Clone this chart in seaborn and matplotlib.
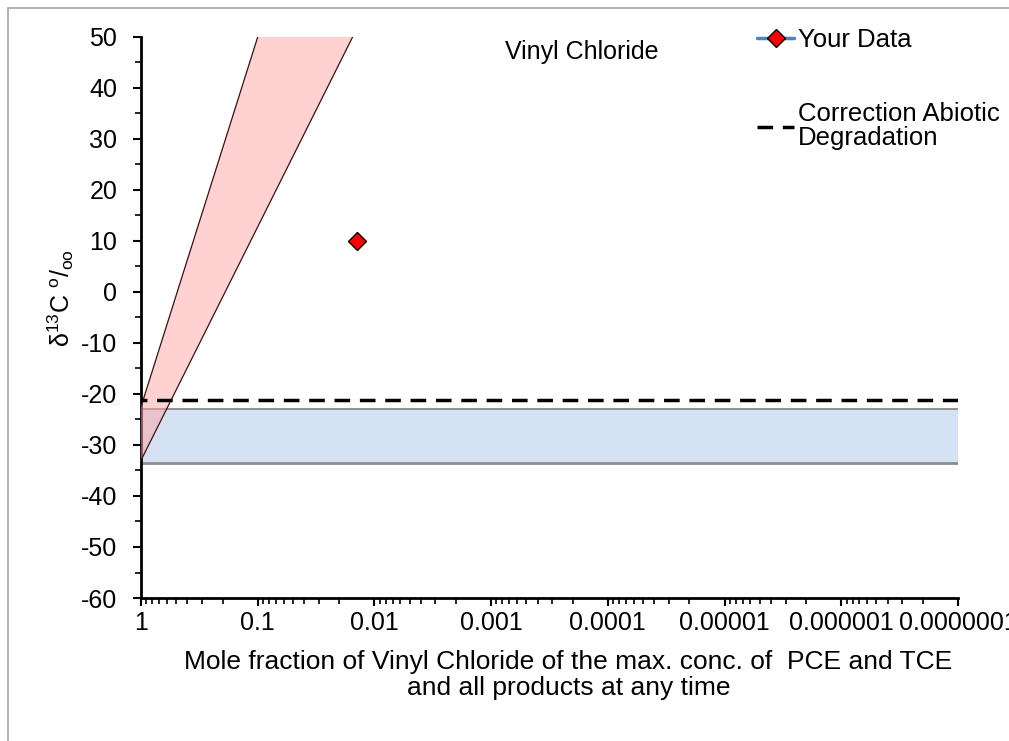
import matplotlib
matplotlib.use("Agg")
import matplotlib.pyplot as plt
import matplotlib.ticker as mticker
from matplotlib.lines import Line2D
import numpy as np
import pandas as pd
import seaborn as sns

# data
decades = [1, 0.1, 0.01, 0.001, 0.0001, 0.00001, 0.000001, 0.0000001]
decade_labels = ["1", "0.1", "0.01", "0.001", "0.0001", "0.00001", "0.000001", "0.0000001"]

# biodegradation envelope (red band): two edge lines
env_lo_f = [1, 0.015]
env_lo_d = [-33, 50.5]
env_hi_f = [1, 0.1]
env_hi_d = [-22.5, 50]

# range of source signature (blue band)
source_f = [1, 0.0000001]
source_top = [-23, -23]
source_bot = [-33.5, -33.5]

# correction for abiotic degradation
corr_f = [1, 0.0000001]
corr_d = [-21.2, -21.2]

# measured data
data_f = [0.014]
data_d = [10]

sns.set_style("white")
plt.rcParams["font.family"] = ["Liberation Sans", "DejaVu Sans"]
plt.rcParams["mathtext.fontset"] = "custom"
plt.rcParams["mathtext.rm"] = "Liberation Sans"
plt.rcParams["mathtext.it"] = "Liberation Sans"
plt.rcParams["axes.unicode_minus"] = False
plt.rcParams["text.color"] = "black"
plt.rcParams["axes.labelcolor"] = "black"
plt.rcParams["xtick.color"] = "black"
plt.rcParams["ytick.color"] = "black"

fig = plt.figure(figsize=(10.09, 7.41), dpi=100)
ax = fig.add_axes([141 / 1009, 1 - 598 / 741, 817 / 1009, 561 / 741])
fs = 18

# blue band
ax.fill_between(source_f, source_bot, source_top, color="#c6d9f1", alpha=0.75, lw=0, zorder=1)
ax.plot(source_f, source_top, color="#7f7f7f", lw=1.2, zorder=2)
ax.plot(source_f, source_bot, color="#8c8c8c", lw=2, zorder=2)

# red band
poly_f = env_lo_f + env_hi_f[::-1]
poly_d = env_lo_d + env_hi_d[::-1]
ax.fill(poly_f, poly_d, color="#ffa5a5", alpha=0.5, lw=0, zorder=3)
env = pd.DataFrame({"f": env_lo_f + env_hi_f, "d": env_lo_d + env_hi_d,
                    "edge": ["lo", "lo", "hi", "hi"]})
sns.lineplot(data=env, x="f", y="d", units="edge", estimator=None, color="#3a1010",
             lw=0.9, ax=ax, zorder=4)

# correction line
dash = (0, (4.5, 2.8))
sns.lineplot(x=corr_f, y=corr_d, color="black", lw=2.5, linestyle=dash, ax=ax, zorder=5)

# data point
ax.plot(data_f, data_d, color="#4f81bd", lw=2.5, marker="D", ms=9, mfc="red",
        mec="black", mew=1, zorder=6)

ax.set_xscale("log")
ax.set_xlim(1, 0.0000001)
ax.set_ylim(-60, 50)
ax.xaxis.set_major_locator(mticker.FixedLocator(decades))
ax.xaxis.set_major_formatter(mticker.FixedFormatter(decade_labels))
ax.xaxis.set_minor_locator(mticker.LogLocator(base=10, subs=np.arange(2, 10), numticks=20))
ax.xaxis.set_minor_formatter(mticker.NullFormatter())
ax.yaxis.set_major_locator(mticker.MultipleLocator(10))
ax.yaxis.set_minor_locator(mticker.MultipleLocator(5))

for side in ["top", "right"]:
    ax.spines[side].set_visible(False)
for side in ["left", "bottom"]:
    ax.spines[side].set_linewidth(2)
    ax.spines[side].set_color("black")

ax.tick_params(which="both", bottom=True, left=True, top=False, right=False)
ax.tick_params(which="major", direction="out", length=6, width=1.5, labelsize=fs,
               color="black")
ax.tick_params(which="minor", direction="out", length=4, width=1.2, color="black")
ax.tick_params(axis="x", which="major", pad=3)
ax.tick_params(axis="y", which="major", pad=11)

ax.set_xlabel("Mole fraction of Vinyl Chloride of the max. conc. of  PCE and TCE\nand all products at any time",
              fontsize=19, linespacing=1.1)
ax.xaxis.set_label_coords(0.523, -0.092)
ax.set_ylabel(r"δ$^{13}$C $^{o}$/$_{oo}$", fontsize=fs)
ax.yaxis.set_label_coords(-0.08, 0.535)
ax.text(0.539, 0.973, "Vinyl Chloride", transform=ax.transAxes, ha="center", va="center",
        fontsize=fs)

handles = [Line2D([], [], color="#4f81bd", lw=2.5, marker="D", ms=9, mfc="red", mec="black"),
           Line2D([], [], color="black", lw=2.5, linestyle=dash)]
leg = fig.legend(handles, ["Your Data", "Correction Abiotic\nDegradation"],
                 loc="upper left", bbox_to_anchor=(757 / 1009, 1 - 28 / 741),
                 frameon=False, fontsize=18.5, handlelength=1.45, handletextpad=0.15,
                 labelspacing=1.95, borderpad=0, borderaxespad=0)
for t in leg.get_texts():
    t.set_linespacing(1.0)

# light grey chart-area border
fig.add_artist(Line2D([8 / 1009, 8 / 1009], [0, 1 - 8 / 741], color="#a6a6a6", lw=1.2))
fig.add_artist(Line2D([8 / 1009, 1], [1 - 8 / 741, 1 - 8 / 741], color="#a6a6a6", lw=1.2))

fig.savefig("out.png", dpi=100)
